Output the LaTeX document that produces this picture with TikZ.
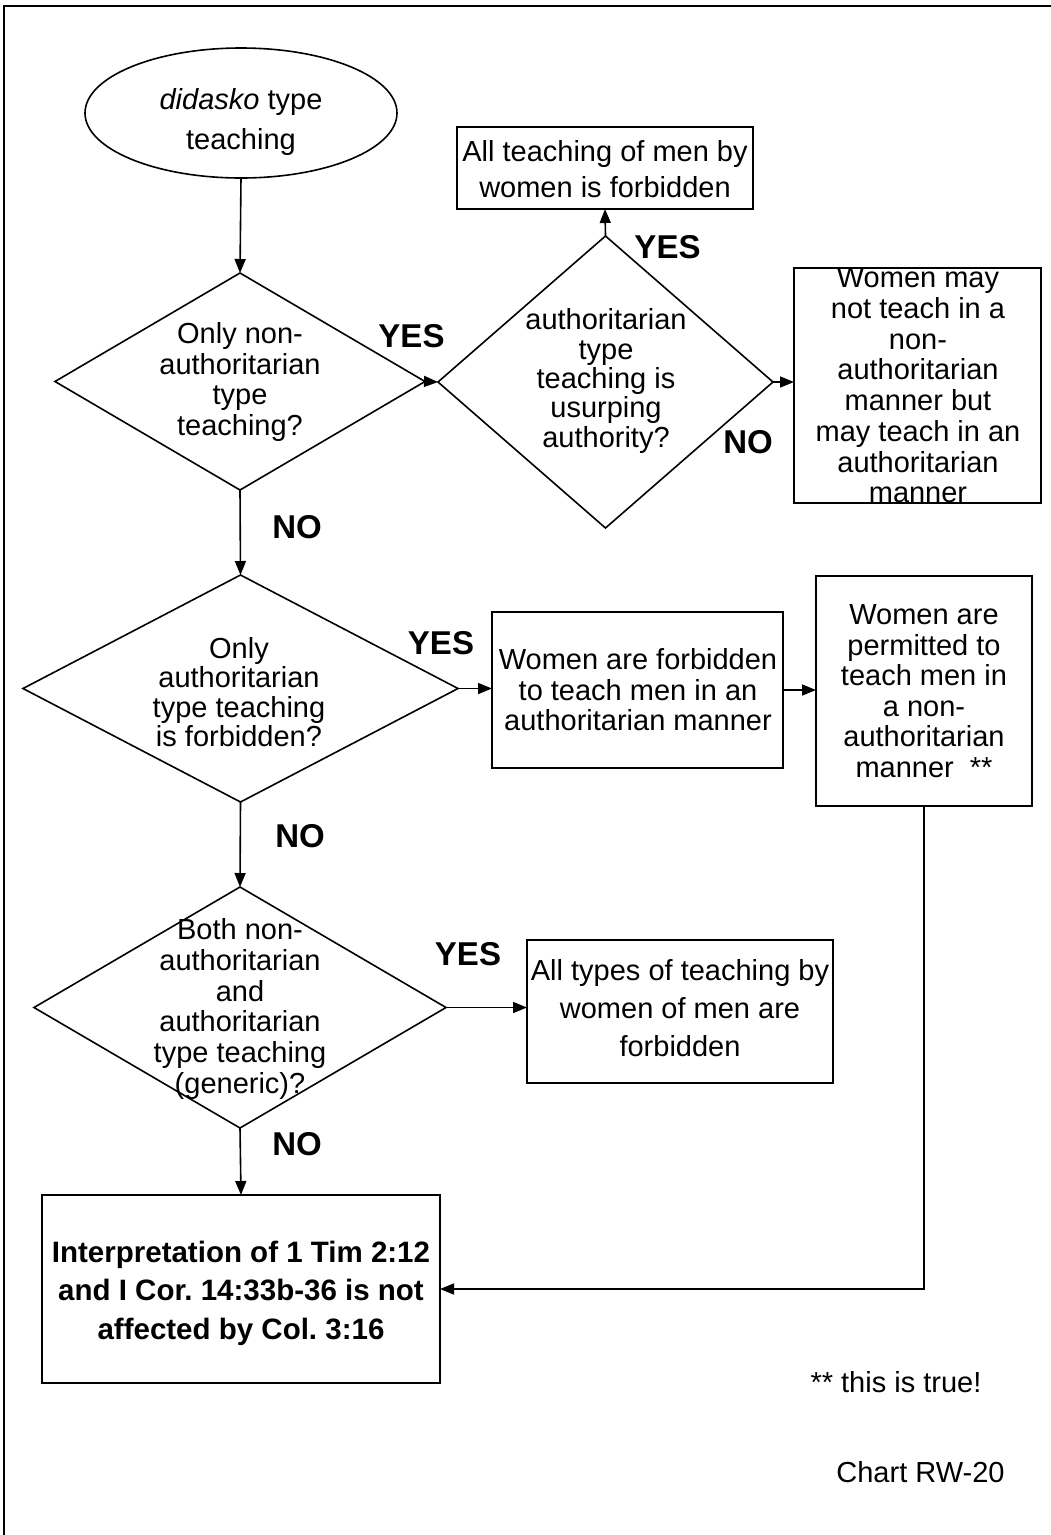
\documentclass[tikz,border=0pt]{standalone}
\usepackage{fontspec}
\setmainfont{Liberation Sans}
\usetikzlibrary{shapes.geometric,arrows.meta}
\frenchspacing
\tikzset{
  every picture/.style={x=1pt,y=-1pt},
  shapeline/.style={draw=black,line width=1.6pt,inner sep=0pt,outer sep=0pt},
  boxshape/.style={shapeline,rectangle},
  diashape/.style={shapeline,diamond},
  ellshape/.style={shapeline,ellipse},
  txt/.style={align=center,inner sep=0pt,font=\fontsize{29}{30.5}\selectfont},
  lbl/.style={inner sep=0pt,font=\fontsize{33}{36}\selectfont\bfseries},
  conn/.style={line width=1.6pt,-{Triangle[length=14pt,width=11pt]}}
}
\begin{document}
\begin{tikzpicture}
\useasboundingbox (0,0) rectangle (1051,1535);
\fill[white] (0,0) rectangle (1051,1535);
% outer frame (left and top edges visible)
\draw[line width=1.6pt] (4,1545) -- (4,6) -- (1060,6);

% shapes
\node[ellshape,minimum width=312pt,minimum height=130pt] (ell) at (241,113) {};
\node[diashape,minimum width=370pt,minimum height=217pt] (d1) at (240,381.5) {};
\node[diashape,minimum width=335pt,minimum height=292pt] (d2) at (605.5,382) {};
\node[boxshape,minimum width=296pt,minimum height=82pt] (btop) at (605,168) {};
\node[boxshape,minimum width=247pt,minimum height=235pt] (b3) at (917.5,385.5) {};
\node[diashape,minimum width=435pt,minimum height=227pt] (d3) at (240.5,688.5) {};
\node[boxshape,minimum width=291pt,minimum height=156pt] (b4) at (637.5,690) {};
\node[boxshape,minimum width=216pt,minimum height=230pt] (b5) at (924,691) {};
\node[diashape,minimum width=412pt,minimum height=241pt] (d4) at (240,1007.5) {};
\node[boxshape,minimum width=306pt,minimum height=143pt] (b6) at (680,1011.5) {};
\node[boxshape,minimum width=398pt,minimum height=188pt] (b7) at (241,1289) {};

% texts
\node[txt,font=\fontsize{29}{40}\selectfont] (tell) at (241,122) {\textit{didasko} type\\teaching};
\node[txt] (td1) at (240,382) {Only non-\\authoritarian\\type\\teaching?};
\node[txt,font=\fontsize{29}{29.3}\selectfont] (td2) at (606,381) {authoritarian\\type\\teaching is\\usurping\\authority?};
\node[txt,font=\fontsize{29}{36}\selectfont] (tbtop) at (605,169) {All teaching of men by\\women is forbidden};
\node[txt,font=\fontsize{29}{30.7}\selectfont] (tb3) at (918,385.5) {Women may\\not teach in a\\non-\\authoritarian\\manner but\\may teach in an\\authoritarian\\manner};
\node[txt,font=\fontsize{29}{29.5}\selectfont] (td3) at (239,692) {Only\\authoritarian\\type teaching\\is forbidden?};
\node[txt] (tb4) at (638,690) {Women are forbidden\\to teach men in an\\authoritarian manner};
\node[txt] (tb5) at (924,691) {Women are\\permitted to\\teach men in\\a non-\\authoritarian\\manner\ \ **};
\node[txt,font=\fontsize{29}{30.8}\selectfont] (td4) at (240,1009) {Both non-\\authoritarian\\and\\authoritarian\\type teaching\\(generic)?};
\node[txt,font=\fontsize{29}{38}\selectfont] (tb6) at (680,1008) {All types of teaching by\\women of men are\\forbidden};
\node[txt,font=\fontsize{29.5}{38.5}\selectfont\bfseries] (tb7) at (241,1293) {Interpretation of 1 Tim 2:12\\and I Cor. 14:33b-36 is not\\affected by Col. 3:16};

% YES / NO labels
\node[lbl] (yes1) at (411.5,336) {YES};
\node[lbl] (no1) at (297,527) {NO};
\node[lbl] (yes2) at (667.5,247) {YES};
\node[lbl] (no2) at (748,442) {NO};
\node[lbl] (yes3) at (441,643) {YES};
\node[lbl] (no3) at (300,836) {NO};
\node[lbl] (yes4) at (468,954) {YES};
\node[lbl] (no4) at (297,1144) {NO};

% notes
\node[txt] (note) at (896,1382) {** this is true!};
\node[txt] (chart) at (920.5,1472) {Chart RW-20};

% connectors
\draw[conn] (ell.south) -- (d1.north);
\draw[conn] (d1.east) -- (d2.west);
\draw[conn] (d2.north) -- (btop.south);
\draw[conn] (d2.east) -- (d2.east -| b3.west);
\draw[conn] (d1.south) -- (d3.north);
\draw[conn] (d3.east) -- (d3.east -| b4.west);
\draw[conn] (b4.east) -- (b4.east -| b5.west);
\draw[conn] (d3.south) -- (d4.north);
\draw[conn] (d4.east) -- (d4.east -| b6.west);
\draw[conn] (d4.south) -- (b7.north);
\draw[conn] (b5.south) |- (b7.east);
\end{tikzpicture}
\end{document}
